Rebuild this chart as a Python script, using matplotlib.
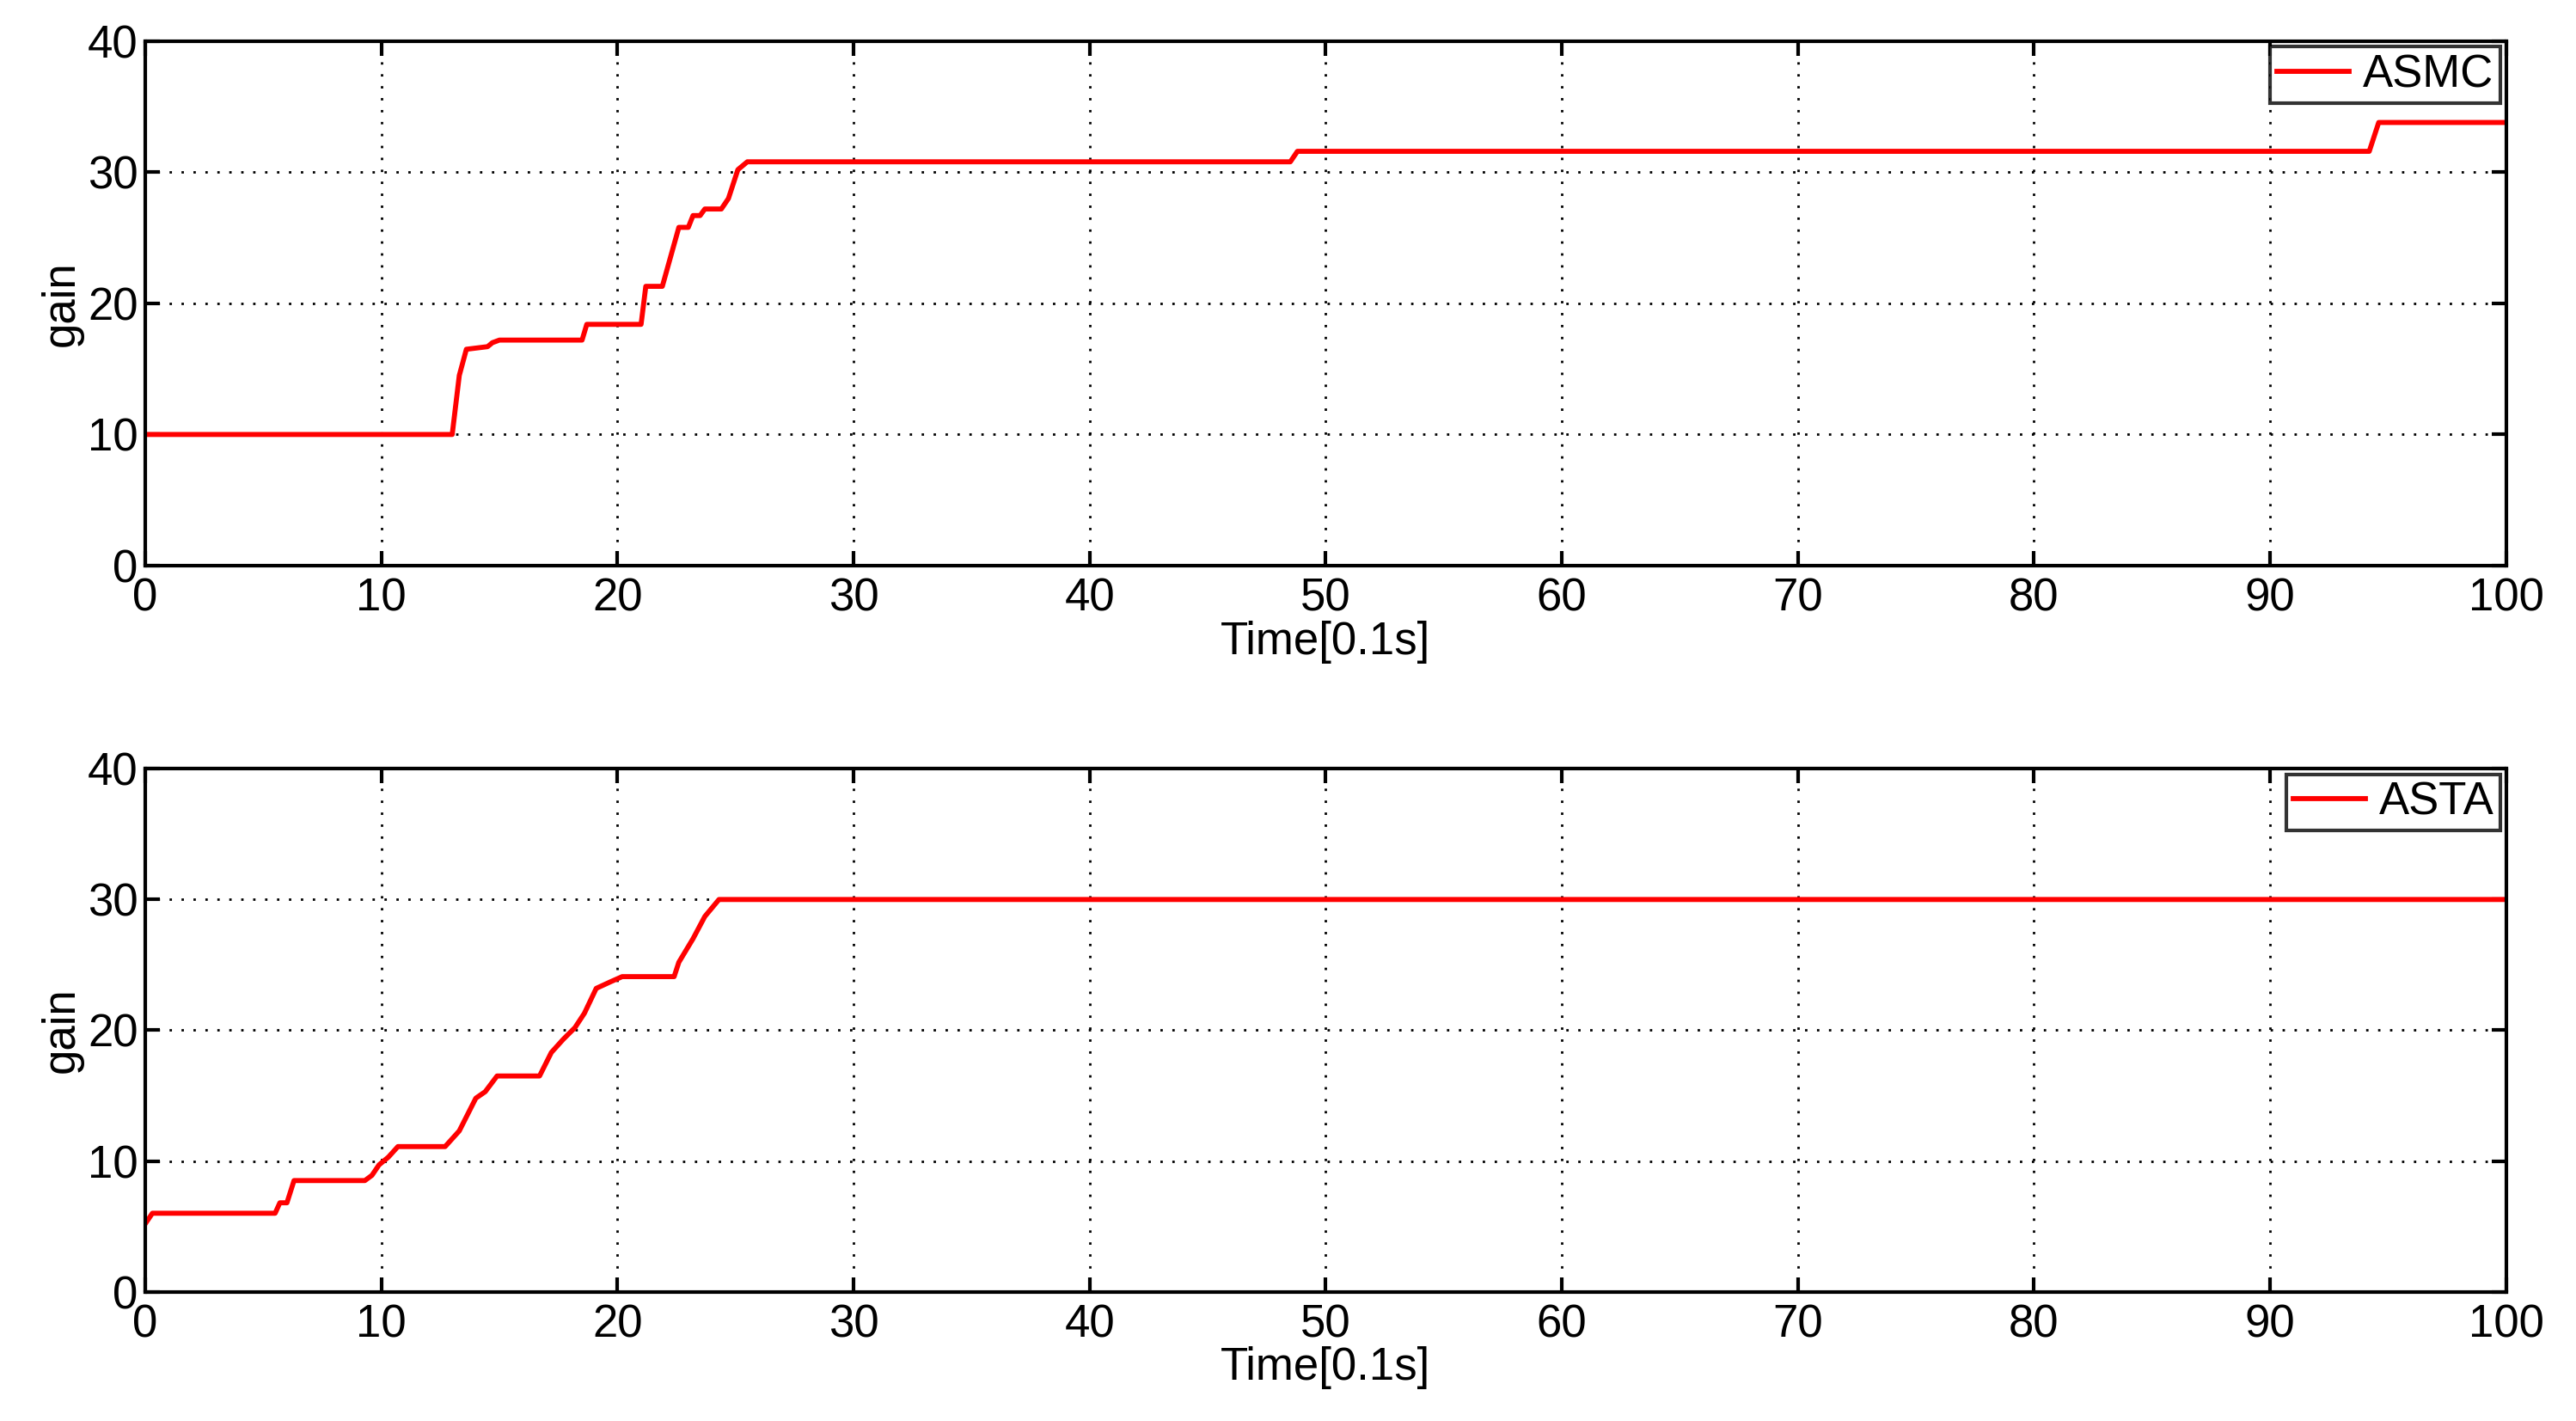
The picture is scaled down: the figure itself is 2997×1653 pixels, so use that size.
import matplotlib
matplotlib.use("Agg")
import matplotlib.pyplot as plt

plt.rcParams['font.family'] = ['Liberation Sans', 'DejaVu Sans']

asmc_t = [0, 13.0, 13.3, 13.6, 14.5, 14.7, 15.0, 18.5, 18.7, 21.0, 21.2, 21.9, 22.6, 23.0, 23.2, 23.5, 23.7, 24.4, 24.7, 25.1, 25.5, 48.5, 48.8, 94.2, 94.6, 100]
asmc_g = [10, 10, 14.5, 16.5, 16.7, 17.0, 17.2, 17.2, 18.4, 18.4, 21.3, 21.3, 25.8, 25.8, 26.7, 26.7, 27.2, 27.2, 28.0, 30.2, 30.8, 30.8, 31.6, 31.6, 33.8, 33.8]

asta_t = [0, 0.3, 5.5, 5.7, 6.0, 6.3, 9.3, 9.6, 9.9, 10.3, 10.7, 12.7, 13.3, 14.0, 14.4, 14.9, 16.7, 17.2, 17.7, 18.2, 18.6, 19.1, 19.7, 20.2, 22.4, 22.6, 23.2, 23.7, 24.3, 100]
asta_g = [5.2, 6.0, 6.0, 6.8, 6.8, 8.5, 8.5, 8.9, 9.7, 10.3, 11.1, 11.1, 12.3, 14.8, 15.3, 16.5, 16.5, 18.3, 19.3, 20.2, 21.3, 23.2, 23.7, 24.1, 24.1, 25.2, 27.0, 28.7, 30.0, 30.0]

fig = plt.figure(figsize=(29.97, 16.53), dpi=100)
ax1 = fig.add_axes([0.0564, 0.602, 0.9165, 0.369])
ax2 = fig.add_axes([0.0564, 0.091, 0.9165, 0.368])

for ax, t, g, lab in [(ax1, asmc_t, asmc_g, "ASMC"), (ax2, asta_t, asta_g, "ASTA")]:
    ax.plot(t, g, color="#ff0000", lw=4.2, label=lab)
    ax.set_xlim(0, 100)
    ax.set_ylim(0, 40)
    ax.set_xticks(range(0, 101, 10))
    ax.set_yticks(range(0, 41, 10))
    ax.grid(True, color="black", linestyle=(0, (1, 4)), lw=2)
    ax.tick_params(direction="in", labelsize=38, width=3, length=12, top=True, right=True)
    ax.tick_params(axis="x", pad=10)
    ax.tick_params(axis="y", pad=6)
    for s in ax.spines.values():
        s.set_linewidth(3)
    ax.set_xlabel("Time[0.1s]", fontsize=38, labelpad=0)
    ax.set_ylabel("gain", fontsize=38, labelpad=4)
    leg = ax.legend(loc="upper right", fontsize=38, handlelength=1.6, handletextpad=0.3,
                    borderpad=0.15, fancybox=False, borderaxespad=0.12)
    leg.get_frame().set_edgecolor("black")
    leg.get_frame().set_linewidth(3)

fig.savefig("out.png", dpi=100)
